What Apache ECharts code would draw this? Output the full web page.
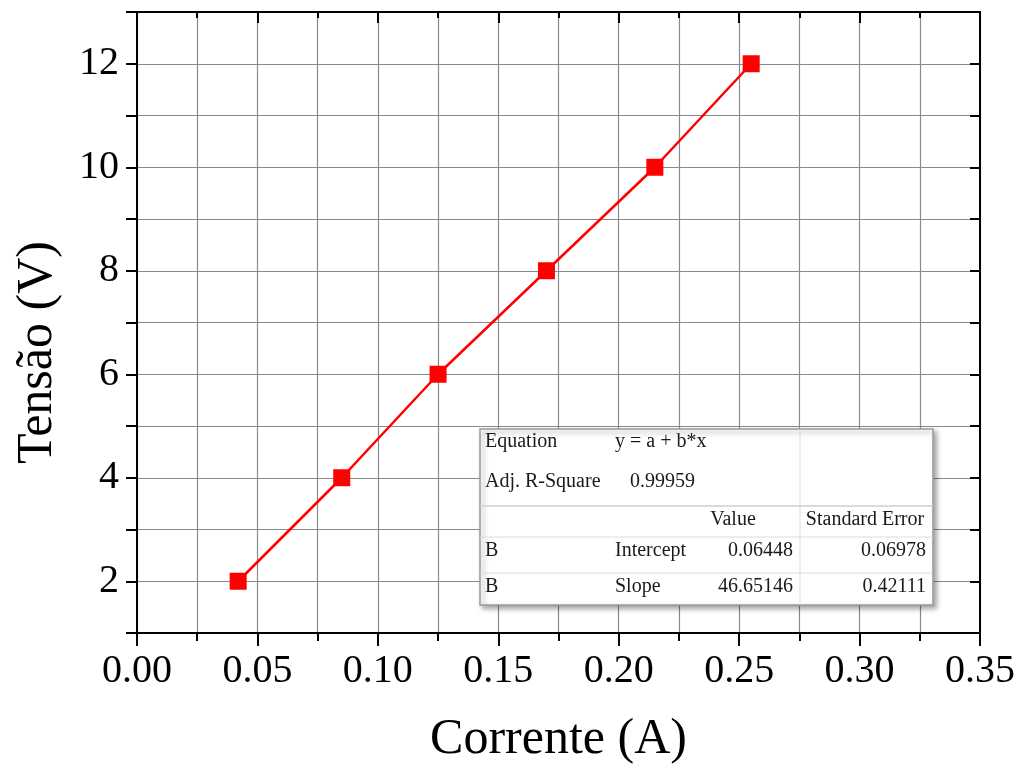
<!DOCTYPE html>
<html>
<head>
<meta charset="utf-8">
<script src="https://cdn.jsdelivr.net/npm/echarts@6/dist/echarts.min.js"></script>
<style>html,body{margin:0;padding:0;background:#fff}#c{width:1018px;height:770px}</style>
</head>
<body>
<div id="c"></div>
<script>
// Data
const currentA = [0.042, 0.085, 0.125, 0.170, 0.215, 0.255];
const voltageV = [2, 4, 6, 8, 10, 12];
const xTitle = 'Corrente (A)';
const yTitle = 'Tensão (V)';
// Fit table text
const fitInfoRows = [['Equation', 'y = a + b*x'], ['Adj. R-Square', '0.99959']];
const fitHeader = ['', '', 'Value', 'Standard Error'];
const fitParamRows = [['B', 'Intercept', '0.06448', '0.06978'], ['B', 'Slope', '46.65146', '0.42111']];

const FONT = '"Liberation Serif", "DejaVu Serif", serif';
const chart = echarts.init(document.getElementById('c'), null, {renderer: 'canvas'});

const gridColor = '#8a8a8a';
const TX = 480, TY = 429, TW = 453, TH = 176;
const tFont = 20;
function txt(text, x, y, align) {
  return {type: 'text', x: TX + x, y: TY + y, z: 101,
    style: {text: text, fontSize: tFont, fontFamily: FONT, fill: '#1a1a1a', align: align || 'left', verticalAlign: 'middle'}};
}
const tableEls = [
  {type: 'rect', z: 100, shape: {x: TX, y: TY, width: TW, height: TH},
    style: {fill: '#fff', stroke: '#9a9a9a', lineWidth: 1.5, shadowBlur: 5, shadowOffsetX: 3, shadowOffsetY: 3, shadowColor: 'rgba(0,0,0,0.35)'}},
  {type: 'line', z: 101, shape: {x1: TX, y1: TY + 77, x2: TX + TW, y2: TY + 77}, style: {stroke: '#cfcfcf', lineWidth: 1.5}},
  {type: 'line', z: 101, shape: {x1: TX, y1: TY + 108, x2: TX + TW, y2: TY + 108}, style: {stroke: '#dcdcdc', lineWidth: 1}},
  {type: 'line', z: 101, shape: {x1: TX, y1: TY + 144, x2: TX + TW, y2: TY + 144}, style: {stroke: '#dcdcdc', lineWidth: 1}},
  {type: 'line', z: 101, shape: {x1: TX + 320, y1: TY, x2: TX + 320, y2: TY + TH}, style: {stroke: '#dcdcdc', lineWidth: 1}},
  txt(fitInfoRows[0][0], 5, 13), txt(fitInfoRows[0][1], 135, 13),
  txt(fitInfoRows[1][0], 5, 53), txt(fitInfoRows[1][1], 150, 53),
  txt(fitHeader[2], 253, 91, 'center'), txt(fitHeader[3], 385, 91, 'center'),
  txt(fitParamRows[0][0], 5, 122), txt(fitParamRows[0][1], 135, 122), txt(fitParamRows[0][2], 313, 122, 'right'), txt(fitParamRows[0][3], 446, 122, 'right'),
  txt(fitParamRows[1][0], 5, 158), txt(fitParamRows[1][1], 135, 158), txt(fitParamRows[1][2], 313, 158, 'right'), txt(fitParamRows[1][3], 446, 158, 'right')
];

const option = {
  backgroundColor: '#fff',
  animation: false,
  grid: {left: 137, right: 38, top: 12, bottom: 136, containLabel: false},
  xAxis: [{
    type: 'value', min: 0, max: 0.35, interval: 0.05,
    axisLine: {show: true, onZero: false, lineStyle: {color: '#000', width: 2}},
    axisTick: {show: true, inside: false, length: 13, lineStyle: {color: '#000', width: 2}},
    minorTick: {show: true, splitNumber: 2, length: 8, lineStyle: {color: '#000', width: 2}},
    splitLine: {show: true, lineStyle: {color: gridColor, width: 1.2}},
    minorSplitLine: {show: true, lineStyle: {color: gridColor, width: 1.2}},
    axisLabel: {fontSize: 40, fontFamily: FONT, color: '#000', margin: 18, formatter: v => v.toFixed(2)},
    name: xTitle, nameLocation: 'middle', nameGap: 82,
    nameTextStyle: {fontSize: 50, fontFamily: FONT, color: '#000'}
  }, {
    type: 'value', min: 0, max: 0.35, interval: 0.05, position: 'top',
    axisLine: {show: true, onZero: false, lineStyle: {color: '#000', width: 2}},
    axisTick: {show: true, inside: true, length: 11, lineStyle: {color: '#000', width: 2}},
    minorTick: {show: true, splitNumber: 2, length: 6, lineStyle: {color: '#000', width: 2}},
    splitLine: {show: false}, axisLabel: {show: false}
  }],
  yAxis: [{
    type: 'value', min: 1, max: 13, interval: 1,
    axisLine: {show: true, onZero: false, lineStyle: {color: '#000', width: 2}},
    axisTick: {show: true, inside: false, length: 11, lineStyle: {color: '#000', width: 2}},
    splitLine: {show: true, lineStyle: {color: gridColor, width: 1.2}},
    axisLabel: {fontSize: 40, fontFamily: FONT, color: '#000', margin: 18,
      formatter: v => (Math.round(v) % 2 === 0 ? String(Math.round(v)) : '')},
    name: yTitle, nameLocation: 'middle', nameGap: 74,
    nameTextStyle: {fontSize: 50, fontFamily: FONT, color: '#000', padding: [0, 60, 0, 0]}
  }, {
    type: 'value', min: 1, max: 13, interval: 1, position: 'right',
    axisLine: {show: true, onZero: false, lineStyle: {color: '#000', width: 2}},
    axisTick: {show: true, inside: true, length: 10, lineStyle: {color: '#000', width: 2}},
    splitLine: {show: false}, axisLabel: {show: false}
  }],
  series: [{
    type: 'line', xAxisIndex: 0, yAxisIndex: 0,
    data: currentA.map((x, i) => [x, voltageV[i]]),
    symbol: 'rect', symbolSize: 17, showSymbol: true,
    itemStyle: {color: '#ff0000'},
    lineStyle: {color: '#ff0000', width: 2.5},
    z: 5
  }],
  graphic: tableEls
};
chart.setOption(option);
</script>
</body>
</html>
